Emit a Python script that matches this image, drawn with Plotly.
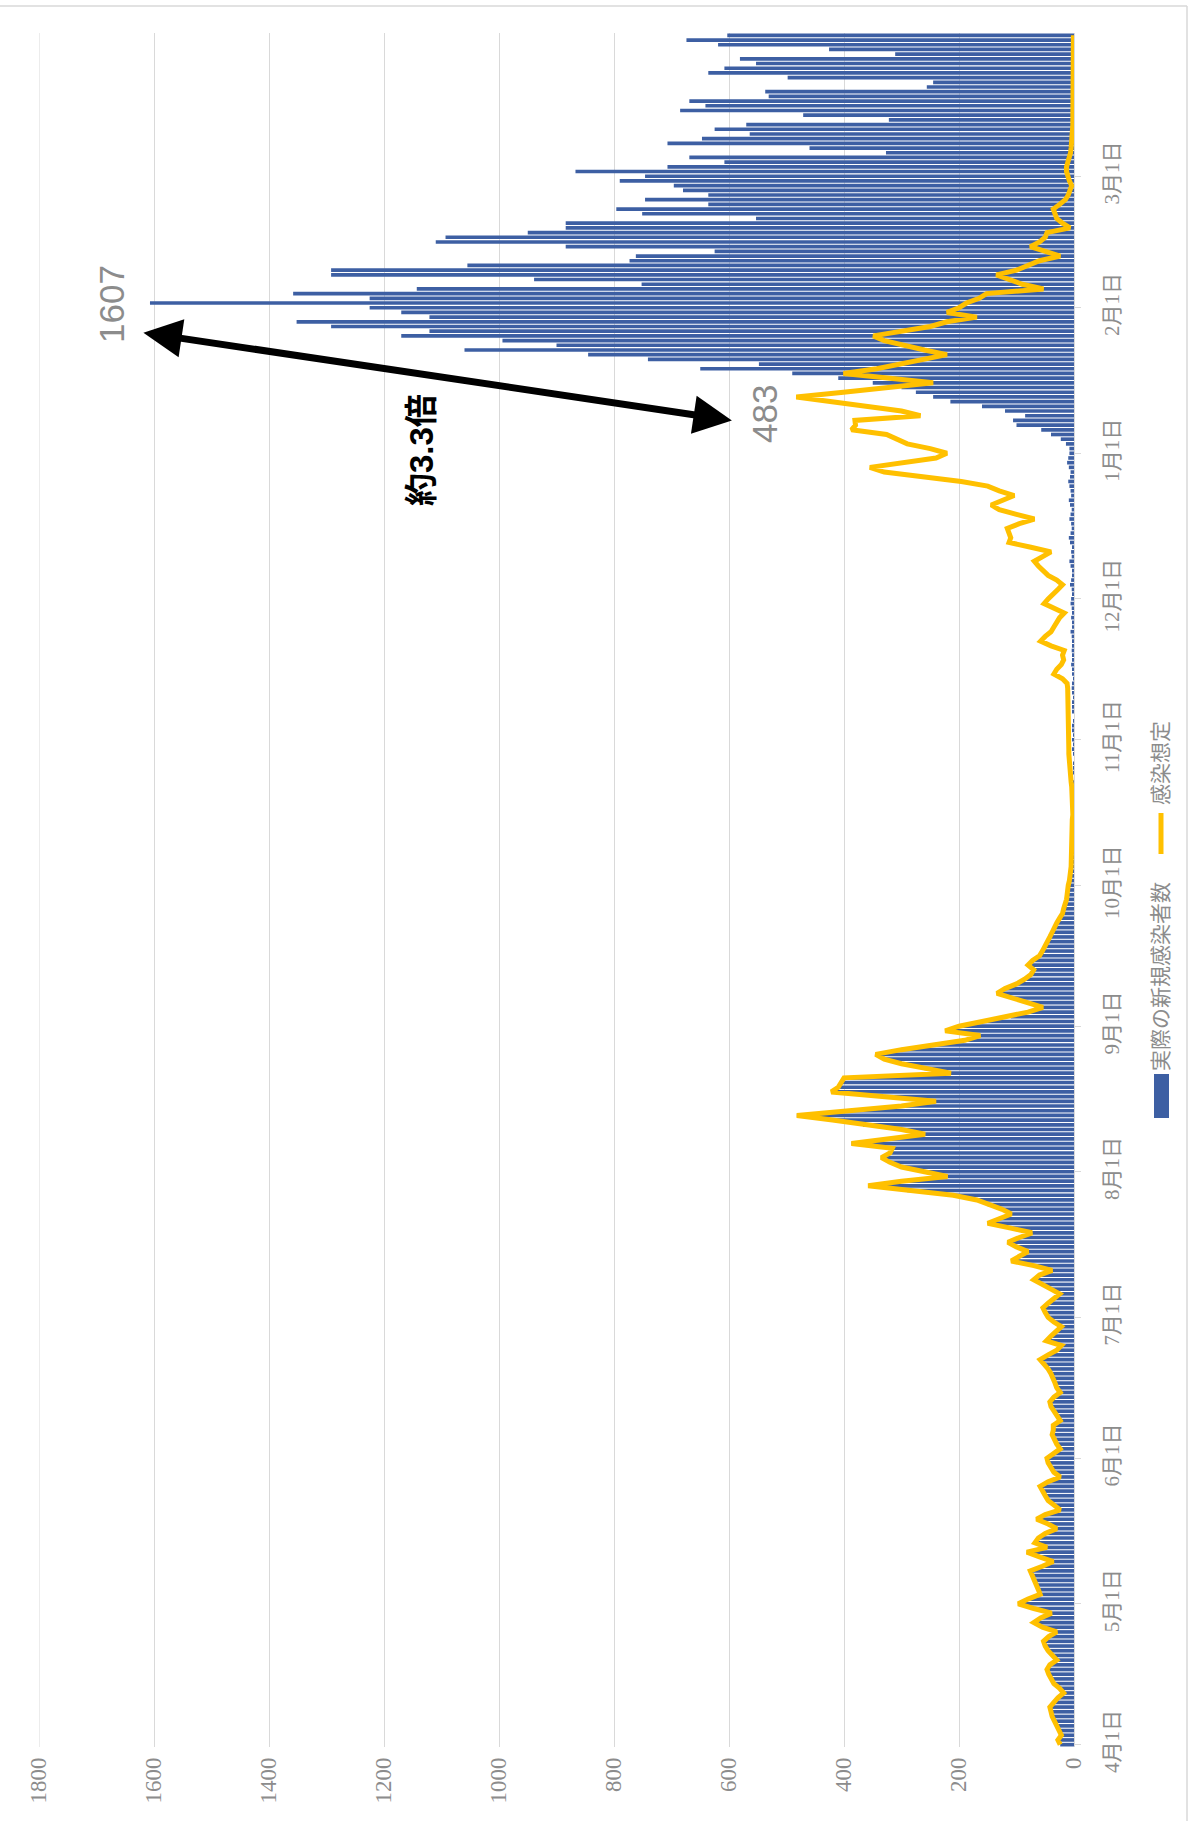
import pandas as pd
import plotly.graph_objects as go

# ---- data: daily values, 2021-04-01 .. 2022-03-31 ----
dates = pd.date_range("2021-04-01", "2022-03-31", freq="D")

# 感染想定 (line), by month
assumed_apr = [24, 28, 22, 26, 30, 35, 38, 40, 42, 35, 28, 18, 25, 35, 40, 44, 47, 42, 30, 38,
               45, 50, 53, 44, 30, 55, 70, 58, 39, 70]
assumed_may = [97, 80, 59, 62, 65, 70, 72, 76, 55, 36, 60, 82, 47, 68, 62, 50, 30, 45, 65, 50,
               24, 35, 45, 50, 55, 59, 45, 24, 35, 40, 45]
assumed_jun = [47, 35, 24, 30, 34, 38, 36, 36, 24, 30, 35, 40, 42, 35, 24, 30, 33, 36, 40, 45,
               52, 59, 45, 30, 22, 48, 40, 30, 22, 35]
assumed_jul = [45, 50, 54, 45, 35, 25, 40, 55, 70, 60, 38, 70, 109, 95, 80, 100, 115, 95, 73, 110,
               150, 130, 109, 125, 150, 169, 210, 290, 358, 300, 220]
assumed_aug = [260, 300, 320, 335, 320, 316, 387, 330, 259, 300, 367, 420, 482, 390, 300, 240, 330,
               422, 410, 405, 400, 214, 260, 300, 330, 345, 300, 240, 190, 163, 224]
assumed_sep = [200, 160, 110, 80, 54, 80, 110, 134, 120, 100, 86, 75, 70, 80, 72, 60, 55, 50, 45, 42,
               38, 35, 30, 25, 20, 18, 15, 13, 12, 12]
assumed_oct = [10, 8, 6, 6, 5, 5, 4, 4, 4, 3, 3, 3, 3, 3, 3, 2, 2, 2, 2, 2, 3, 4, 5, 6, 7, 8, 8, 8,
               9, 9, 9]
assumed_nov = [9, 9, 9, 10, 10, 10, 10, 10, 11, 11, 11, 11, 12, 20, 35, 30, 22, 18, 20, 17, 40, 58,
               50, 40, 35, 30, 25, 17, 35, 52]
assumed_dec = [45, 35, 28, 20, 30, 45, 55, 62, 69, 55, 40, 75, 113, 110, 112, 116, 95, 69, 100, 130,
               144, 125, 104, 130, 150, 196, 260, 330, 355, 300, 240]
assumed_jan = [221, 250, 290, 310, 326, 387, 380, 381, 267, 300, 366, 420, 483, 401, 330, 245, 320,
               401, 343, 300, 260, 221, 260, 300, 330, 349, 300, 250, 221, 169, 221]
assumed_feb = [200, 187, 165, 152, 53, 90, 110, 135, 100, 82, 60, 24, 50, 76, 60, 50, 47, 7, 20, 30,
               33, 36, 25, 15, 10, 6, 4, 8]
assumed_mar = [11, 13, 13, 10, 8, 6, 5, 4, 3, 3, 3, 2, 2, 2, 2, 2, 2, 2, 2, 2, 2, 2, 1, 1, 1, 1, 1,
               1, 1, 1, 1]

# 実際の新規感染者数 (bars), by month
actual_apr = [24, 28, 22, 26, 30, 35, 38, 40, 42, 35, 28, 18, 25, 35, 40, 44, 47, 42, 30, 38,
              45, 50, 53, 44, 30, 55, 70, 58, 39, 70]
actual_may = [97, 80, 59, 62, 65, 70, 72, 76, 55, 36, 60, 82, 47, 68, 62, 50, 30, 45, 65, 50,
              24, 35, 45, 50, 55, 59, 45, 24, 35, 40, 45]
actual_jun = [47, 35, 24, 30, 34, 38, 36, 36, 24, 30, 35, 40, 42, 35, 24, 30, 33, 36, 40, 45,
              52, 59, 45, 30, 22, 48, 40, 30, 22, 35]
actual_jul = [45, 50, 54, 45, 35, 25, 40, 55, 70, 60, 38, 70, 109, 95, 80, 100, 115, 95, 73, 110,
              150, 130, 109, 125, 150, 169, 210, 290, 358, 300, 220]
actual_aug = [260, 300, 320, 335, 320, 316, 387, 330, 259, 300, 367, 420, 482, 390, 300, 240, 330,
              422, 410, 405, 400, 214, 260, 300, 330, 345, 300, 240, 190, 163, 224]
actual_sep = [200, 160, 110, 80, 54, 80, 110, 134, 120, 100, 86, 75, 70, 80, 72, 60, 55, 50, 45, 42,
              38, 35, 30, 25, 20, 18, 15, 13, 12, 12]
actual_oct = [8, 6, 5, 4, 3, 3, 2, 2, 2, 1, 1, 2, 1, 1, 0, 1, 1, 0, 1, 1, 0, 1, 1, 0, 1, 1, 1, 0,
              1, 2, 1]
actual_nov = [2, 1, 3, 2, 1, 0, 2, 3, 2, 1, 2, 4, 2, 1, 3, 2, 5, 3, 2, 4, 3, 2, 4, 6, 3, 2, 5, 3,
              4, 6]
actual_dec = [5, 3, 4, 7, 5, 3, 2, 6, 8, 4, 5, 3, 7, 9, 6, 4, 5, 8, 6, 4, 7, 9, 5, 6, 8, 10, 7, 6,
              9, 12, 10]
actual_jan = [8, 8, 14, 23, 40, 57, 100, 106, 85, 120, 160, 215, 245, 275, 300, 350, 410, 490, 650,
              548, 741, 845, 1060, 900, 994, 1170, 1121, 1292, 1352, 1121, 1170]
actual_feb = [1225, 1607, 1225, 1358, 1143, 752, 939, 1292, 1292, 1055, 773, 762, 625, 884, 1110,
              1093, 950, 884, 884, 553, 751, 796, 636, 746, 636, 680, 696, 790]
actual_mar = [746, 867, 707, 608, 669, 327, 460, 707, 647, 564, 625, 570, 322, 471, 685, 641, 669,
              531, 537, 256, 245, 498, 636, 608, 553, 581, 311, 426, 619, 674, 603]

assumed = (assumed_apr + assumed_may + assumed_jun + assumed_jul + assumed_aug + assumed_sep
           + assumed_oct + assumed_nov + assumed_dec + assumed_jan + assumed_feb + assumed_mar)
actual = (actual_apr + actual_may + actual_jun + actual_jul + actual_aug + actual_sep
          + actual_oct + actual_nov + actual_dec + actual_jan + actual_feb + actual_mar)

month_ticks = pd.date_range("2021-04-01", "2022-03-01", freq="MS")
month_labels = [f"{d.month}月1日" for d in month_ticks]
value_ticks = [0, 200, 400, 600, 800, 1000, 1200, 1400, 1600, 1800]

series_names = ["実際の新規感染者数", "感染想定"]

# ---- styling ----
W, H = 1195, 1821
ML, MR, MT, MB = 39, 121, 33, 74
PW, PH = W - ML - MR, H - MT - MB
BAR_BLUE = "#3D5FA3"
LINE_GOLD = "#FFC000"
GREY_TXT = "#8c8c8c"
GRID = "#d9d9d9"
SERIF = "Liberation Serif, Noto Sans CJK JP, serif"
SANS = "Liberation Sans, Noto Sans CJK JP, sans-serif"


def fx(px):
    return (px - ML) / PW


def fy(py):
    return (H - MB - py) / PH


fig = go.Figure()
fig.add_trace(go.Bar(
    y=dates, x=actual, orientation="h", name=series_names[0],
    marker=dict(color=BAR_BLUE, line=dict(width=0)),
))
fig.add_trace(go.Scatter(
    y=dates, x=assumed, mode="lines", name=series_names[1],
    line=dict(color=LINE_GOLD, width=5),
))

fig.update_layout(
    width=W, height=H,
    margin=dict(l=ML, r=MR, t=MT, b=MB),
    paper_bgcolor="white", plot_bgcolor="white",
    showlegend=False, bargap=0.22,
    xaxis=dict(
        range=[1800, 0], tickvals=value_ticks, ticktext=[str(v) for v in value_ticks],
        tickangle=-90, showgrid=True, gridcolor=GRID, gridwidth=1,
        zeroline=False, showline=False, ticks="",
        tickfont=dict(family=SERIF, size=23, color=GREY_TXT),
        ticklabelstandoff=5,
    ),
    yaxis=dict(
        type="date", side="right",
        range=["2021-03-31 12:00", "2022-03-31 12:00"],
        tickvals=month_ticks, ticktext=month_labels, tickangle=-90,
        showgrid=False, zeroline=False, showline=True, linecolor=GRID, linewidth=1,
        ticks="outside", ticklen=6, tickcolor=GRID,
        tickfont=dict(family=SERIF, size=21, color=GREY_TXT),
        ticklabelstandoff=13,
    ),
)

annotations = [
    dict(text="1607", x=fx(112), y=fy(304), xref="paper", yref="paper", showarrow=False,
         textangle=-90, xanchor="center", yanchor="middle",
         font=dict(family=SANS, size=35, color=GREY_TXT)),
    dict(text="483", x=fx(764), y=fy(414), xref="paper", yref="paper", showarrow=False,
         textangle=-90, xanchor="center", yanchor="middle",
         font=dict(family=SANS, size=35, color=GREY_TXT)),
    dict(text="<b>約3.3倍</b>", x=fx(422), y=fy(450), xref="paper", yref="paper",
         showarrow=False, textangle=-90, xanchor="center", yanchor="middle",
         font=dict(family=SANS, size=33, color="black")),
    # double-headed arrow between the two peaks
    dict(text="", x=595, y="2022-01-08", xref="x", yref="y", ax=-590, ay=-88,
         showarrow=True, arrowside="end+start", arrowhead=2, arrowsize=1.1,
         arrowwidth=7, arrowcolor="black"),
    # legend labels
    dict(text=series_names[0], x=fx(1161), y=fy(977), xref="paper", yref="paper",
         showarrow=False, textangle=-90, xanchor="center", yanchor="middle",
         font=dict(family=SERIF, size=21, color=GREY_TXT)),
    dict(text=series_names[1], x=fx(1161), y=fy(763), xref="paper", yref="paper",
         showarrow=False, textangle=-90, xanchor="center", yanchor="middle",
         font=dict(family=SERIF, size=21, color=GREY_TXT)),
]

shapes = [
    # outermost value gridline (sits on the plot edge)
    dict(type="line", xref="x", yref="paper", x0=1800, x1=1800, y0=0, y1=1,
         layer="below", line=dict(color=GRID, width=1)),
    # legend keys
    dict(type="rect", xref="paper", yref="paper", x0=fx(1154), x1=fx(1169),
         y0=fy(1118), y1=fy(1074), fillcolor=BAR_BLUE, line=dict(width=0)),
    dict(type="line", xref="paper", yref="paper", x0=fx(1161), x1=fx(1161),
         y0=fy(854), y1=fy(813), line=dict(color=LINE_GOLD, width=5)),
    # chart frame
    dict(type="line", xref="paper", yref="paper", x0=fx(0), x1=fx(1187),
         y0=fy(6), y1=fy(6), line=dict(color=GRID, width=1.5)),
    dict(type="line", xref="paper", yref="paper", x0=fx(1187), x1=fx(1187),
         y0=fy(6), y1=fy(H), line=dict(color=GRID, width=1.5)),
]

fig.update_layout(annotations=annotations, shapes=shapes)
fig.write_html("out.html")
